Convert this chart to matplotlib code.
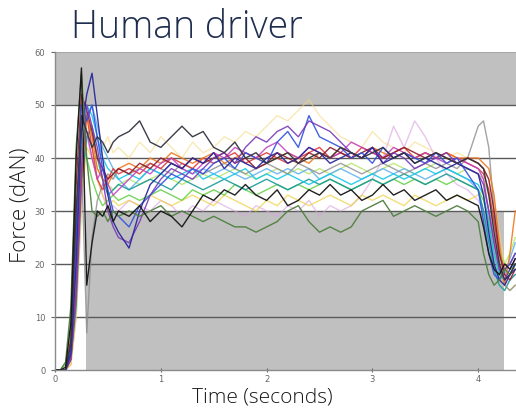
import matplotlib
matplotlib.use("Agg")
import matplotlib.pyplot as plt
from matplotlib.patches import Rectangle

# ---------------- data ----------------
time_s = [0, 0.05, 0.1, 0.15, 0.2, 0.25, 0.3, 0.35, 0.4, 0.45, 0.5, 0.55, 0.6,
          0.7, 0.8, 0.9, 1.0, 1.1, 1.2, 1.3, 1.4, 1.5, 1.6, 1.7, 1.8, 1.9, 2.0,
          2.1, 2.2, 2.3, 2.4, 2.5, 2.6, 2.7, 2.8, 2.9, 3.0, 3.1, 3.2, 3.3, 3.4,
          3.5, 3.6, 3.7, 3.8, 3.9,
          4.0, 4.05, 4.1, 4.15, 4.2, 4.25, 4.3, 4.35]

driver_black = [0, 0, 0.5, 9, 40, 57, 16, 24, 30, 29, 31, 28, 30,
                29, 31, 28, 30, 29, 27, 30, 33, 32, 34, 33, 35, 33, 32, 34, 31, 32, 34, 33, 35,
                33, 34, 32, 33, 35, 33, 34, 32, 33, 34, 32, 33, 32,
                31, 27, 22, 19, 18, 20, 19, 21]
driver_charcoal = [0, 0, 0, 5, 30, 48, 45, 42, 44, 43, 41, 43, 44,
                   45, 47, 43, 42, 44, 46, 44, 45, 42, 41, 43, 40, 41, 39, 40, 41, 39, 40, 41, 40,
                   42, 41, 40, 41, 42, 40, 41, 39, 40, 41, 40, 39, 40,
                   39, 38, 33, 26, 20, 17, 18, 20]
driver_navy = [0, 0, 0, 3, 20, 45, 52, 56, 48, 40, 33, 28, 26,
               23, 30, 35, 37, 39, 38, 40, 39, 41, 38, 40, 39, 38, 40, 41, 39, 40, 42, 41, 39,
               40, 41, 40, 42, 39, 40, 41, 39, 40, 39, 38, 39, 38,
               37, 33, 26, 20, 17, 16, 18, 19]
driver_purple = [0, 0, 0, 2, 15, 38, 50, 46, 42, 36, 30, 27, 25,
                 24, 28, 33, 36, 38, 37, 36, 38, 40, 41, 39, 42, 44, 43, 45, 46, 44, 47, 46, 45,
                 43, 41, 40, 42, 39, 41, 40, 38, 39, 40, 41, 39, 38,
                 37, 35, 30, 24, 19, 17, 19, 21]
driver_blue = [0, 0, 0, 4, 25, 50, 47, 50, 44, 38, 34, 30, 29,
               27, 31, 33, 35, 37, 36, 38, 37, 39, 40, 38, 41, 40, 39, 43, 45, 42, 48, 44, 43,
               42, 40, 41, 39, 42, 40, 41, 40, 39, 41, 39, 40, 37,
               34, 28, 22, 18, 17, 19, 20, 22]
driver_maroon = [0, 0, 0, 6, 35, 52, 49, 45, 40, 38, 36, 37, 38,
                 37, 39, 38, 40, 39, 38, 40, 39, 40, 41, 39, 40, 38, 39, 41, 40, 39, 41, 40, 42,
                 41, 40, 41, 42, 40, 41, 42, 41, 40, 41, 40, 39, 40,
                 39, 38, 36, 30, 22, 18, 17, 19]
driver_orange = [0, 0, 0, 2, 18, 40, 48, 44, 38, 36, 35, 37, 38,
                 39, 38, 40, 39, 41, 40, 39, 40, 41, 39, 40, 41, 40, 39, 40, 41, 40, 39, 41, 40,
                 42, 41, 40, 42, 41, 40, 41, 40, 41, 40, 41, 40, 40,
                 40, 39, 38, 33, 24, 16, 22, 30]
driver_cyan = [0, 0, 0, 3, 22, 45, 50, 48, 44, 40, 38, 37, 36,
               37, 36, 38, 37, 36, 37, 38, 36, 37, 36, 37, 38, 36, 37, 36, 37, 36, 35, 36, 37,
               36, 35, 36, 37, 36, 37, 36, 37, 38, 37, 38, 37, 36,
               35, 33, 28, 22, 18, 17, 19, 20]
driver_teal = [0, 0, 0, 2, 12, 35, 44, 46, 40, 36, 33, 34, 35,
               34, 35, 36, 35, 34, 36, 35, 34, 35, 36, 35, 34, 35, 36, 35, 34, 35, 36, 35, 36,
               35, 34, 35, 36, 35, 36, 37, 36, 35, 36, 37, 36, 35,
               34, 30, 24, 19, 16, 15, 17, 18]
driver_lightgreen = [0, 0, 1, 8, 30, 42, 40, 36, 33, 31, 32, 33, 32,
                     33, 32, 33, 34, 33, 32, 34, 33, 34, 33, 35, 34, 33, 34, 35, 34, 35, 34, 35, 36,
                     35, 34, 35, 36, 35, 36, 35, 36, 35, 36, 35, 36, 35,
                     34, 32, 28, 22, 18, 17, 18, 20]
driver_yellow = [0, 0, 0, 1, 10, 32, 42, 40, 36, 33, 31, 32, 31,
                 32, 31, 33, 32, 31, 32, 33, 32, 31, 33, 32, 31, 30, 32, 31, 33, 32, 31, 32, 33,
                 32, 31, 33, 32, 33, 32, 31, 33, 32, 31, 32, 33, 32,
                 33, 34, 30, 24, 19, 16, 15, 16]
driver_darkgreen = [0, 0, 1.5, 12, 42, 56, 40, 30, 29, 30, 28, 30, 29,
                    30, 29, 30, 31, 29, 30, 29, 28, 29, 28, 27, 27, 26, 27, 28, 30, 31, 28, 26, 27,
                    26, 27, 30, 31, 32, 29, 30, 31, 30, 29, 30, 31, 30,
                    28, 22, 18, 16, 17, 19, 18, 20]
driver_paleyellow = [0, 0, 0, 2, 15, 38, 46, 44, 40, 42, 44, 41, 42,
                     40, 43, 41, 44, 42, 40, 43, 41, 42, 44, 43, 45, 44, 46, 48, 47, 49, 51, 48, 46,
                     44, 43, 42, 45, 43, 42, 41, 43, 42, 41, 40, 41, 40,
                     39, 38, 36, 32, 26, 20, 18, 19]
driver_grey = [0, 0, 0, 4, 28, 40, 7, 25, 32, 35, 37, 36, 38,
               37, 38, 39, 38, 37, 39, 38, 37, 38, 39, 38, 37, 38, 39, 38, 37, 39, 38, 37, 38,
               39, 38, 37, 38, 39, 38, 37, 38, 39, 38, 39, 38, 40,
               46, 47, 42, 30, 20, 16, 15, 16]
driver_magenta = [0, 0, 0, 3, 24, 48, 45, 40, 36, 38, 35, 33, 34,
                  36, 38, 37, 39, 40, 38, 37, 39, 41, 40, 42, 41, 40, 42, 43, 41, 40, 42, 41, 40,
                  41, 43, 42, 41, 40, 42, 41, 40, 41, 40, 39, 40, 39,
                  38, 36, 30, 24, 19, 17, 18, 20]
driver_red = [0, 0, 0, 2, 14, 36, 48, 42, 36, 34, 36, 38, 37,
              38, 37, 39, 38, 40, 39, 38, 40, 39, 40, 41, 39, 40, 41, 40, 39, 40, 41, 42, 40,
              41, 40, 42, 41, 40, 41, 42, 40, 41, 40, 41, 40, 39,
              38, 37, 34, 28, 22, 19, 20, 22]
driver_skyblue = [0, 0, 0, 2, 18, 42, 48, 50, 46, 42, 40, 38, 36,
                  34, 36, 38, 37, 39, 38, 37, 38, 37, 38, 37, 36, 37, 38, 37, 38, 37, 38, 36, 37,
                  38, 37, 36, 37, 38, 37, 38, 37, 36, 37, 38, 37, 36,
                  34, 30, 25, 20, 17, 18, 21, 24]
driver_lavender = [0, 0, 0, 1, 10, 30, 44, 40, 36, 33, 30, 31, 30,
                   32, 31, 30, 32, 31, 29, 31, 30, 32, 31, 30, 29, 31, 30, 29, 31, 30, 32, 29, 31,
                   30, 31, 33, 36, 40, 46, 42, 47, 44, 40, 37, 35, 34,
                   32, 30, 26, 22, 18, 16, 17, 18]
driver_lime = [0, 0, 0, 2, 16, 38, 45, 42, 38, 36, 35, 34, 35,
               36, 35, 36, 37, 36, 35, 36, 37, 36, 37, 38, 37, 36, 37, 38, 37, 38, 37, 38, 37,
               38, 39, 38, 37, 38, 39, 38, 37, 38, 39, 38, 37, 38,
               37, 36, 33, 28, 23, 20, 22, 25]

series = [
    (driver_paleyellow, "#f5d77a", 0.55),
    (driver_lavender, "#d9a0e0", 0.6),
    (driver_lime, "#a8e04a", 0.7),
    (driver_yellow, "#eed040", 0.7),
    (driver_skyblue, "#5ab0f0", 0.85),
    (driver_lightgreen, "#5fd040", 0.85),
    (driver_teal, "#1a9a9a", 0.9),
    (driver_cyan, "#18c8e8", 0.9),
    (driver_grey, "#8c8c8c", 0.8),
    (driver_red, "#e03030", 0.85),
    (driver_orange, "#f07820", 0.9),
    (driver_magenta, "#c03cc0", 0.85),
    (driver_maroon, "#8b1a2a", 0.9),
    (driver_blue, "#3050e0", 0.9),
    (driver_purple, "#7a3ab8", 0.9),
    (driver_navy, "#2a2a9a", 0.95),
    (driver_darkgreen, "#4f7f3f", 0.95),
    (driver_charcoal, "#333340", 0.95),
    (driver_black, "#151515", 0.95),
]

x_ticks = [0, 1, 2, 3, 4]
y_ticks = [0, 10, 20, 30, 40, 50, 60]

# ---------------- figure ----------------
fig = plt.figure(figsize=(5.16, 4.11), dpi=100)
ax = fig.add_axes([55 / 516, 1 - 370 / 411, 1 - 55 / 516, (370 - 52) / 411])
ax.set_xlim(0, (516 - 55) / 105.8)
ax.set_ylim(0, 60)

grey = "#c0c0c0"
ax.axhspan(50, 60, color=grey, zorder=0, lw=0)
ax.add_patch(Rectangle((0.29, 0), 4.245 - 0.29, 30, facecolor=grey, lw=0, zorder=0))

for yv in [10, 20, 30, 40, 50]:
    ax.axhline(yv, color="#5a5a5a", lw=1.0, zorder=1)
ax.axhline(60, color="#a8a8a8", lw=0.8, zorder=1)

for vals, col, a in series:
    ax.plot(time_s, vals, color=col, lw=1.0, alpha=a, zorder=2)

ax.set_xticks(x_ticks)
ax.set_yticks(y_ticks)
ax.tick_params(axis="both", labelsize=6, colors="#666666", length=3, width=0.8, pad=4)
ax.tick_params(axis="x", direction="inout", pad=2)
for s in ["top", "right"]:
    ax.spines[s].set_visible(False)
ax.spines["left"].set_color("#8a8a8a")
ax.spines["bottom"].set_color("#8a8a8a")
ax.spines["left"].set_linewidth(1.0)
ax.spines["bottom"].set_linewidth(1.0)

fig.text(71 / 516, 1 - 28 / 411, "Human driver", fontsize=27, color="#1f2d4e",
         family=["Open Sans", "DejaVu Sans"], fontweight="light", va="center", ha="left")
fig.text(20 / 516, 1 - 205 / 411, "Force (dAN)", fontsize=16, color="#1a1a1a",
         family=["Open Sans", "DejaVu Sans"], fontweight="light", rotation=90,
         va="center", ha="center")
fig.text(262 / 516, 1 - 397 / 411, "Time (seconds)", fontsize=15, color="#1a1a1a",
         family=["Open Sans", "DejaVu Sans"], fontweight="light", va="center", ha="center")

fig.savefig("out.png", dpi=100)
